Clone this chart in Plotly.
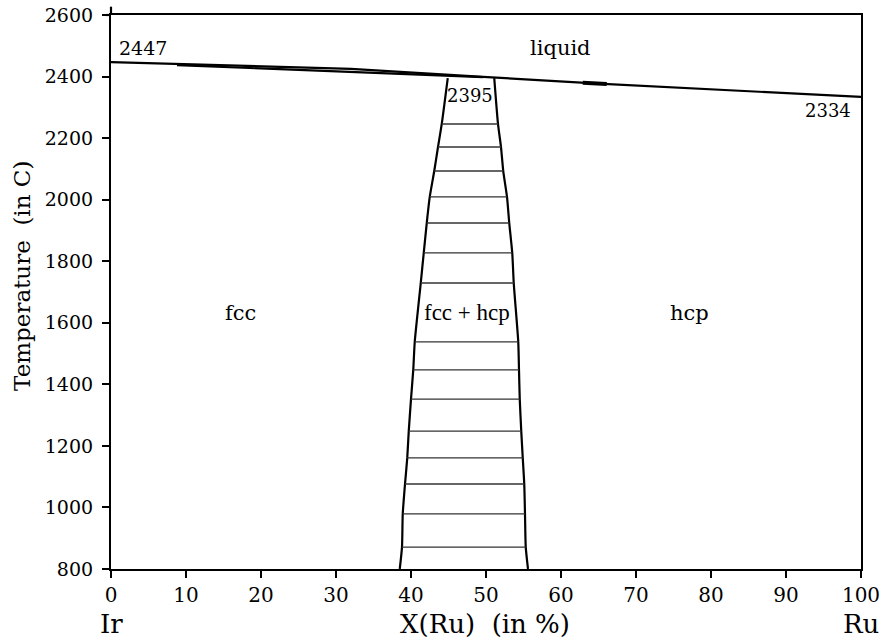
import plotly.graph_objects as go

# ---- data ----
x_ticks = [0, 10, 20, 30, 40, 50, 60, 70, 80, 90, 100]
y_ticks = [800, 1000, 1200, 1400, 1600, 1800, 2000, 2200, 2400, 2600]

# liquidus / solidus lines near the top (X % Ru, T in C)
liq_a_x = [0, 32, 49.6, 65, 100]
liq_a_T = [2447, 2425, 2399, 2377, 2334]
liq_b_x = [8.8, 32, 49.6]
liq_b_T = [2437, 2415, 2398]
blob_x = [62.9, 66.1]
blob_T = [2380, 2376]

# two-phase (fcc + hcp) boundaries
bound_T = [2395, 2246, 2171, 2093, 2009, 1924, 1827, 1729, 1538, 1447, 1352,
           1248, 1161, 1076, 979, 871, 800]
bound_left = [44.9, 44.1, 43.6, 43.1, 42.5, 42.1, 41.7, 41.3, 40.5, 40.3, 40.0,
              39.7, 39.5, 39.2, 38.9, 38.8, 38.5]
bound_right = [51.1, 51.6, 52.0, 52.3, 52.8, 53.1, 53.5, 53.7, 54.3, 54.4, 54.5,
               54.7, 54.9, 55.1, 55.2, 55.3, 55.6]

SERIF = "DejaVu Serif"

fig = go.Figure()

line_style = dict(color="black", width=2.2)
fig.add_trace(go.Scatter(x=liq_a_x, y=liq_a_T, mode="lines", line=line_style,
                         showlegend=False, hoverinfo="skip"))
fig.add_trace(go.Scatter(x=liq_b_x, y=liq_b_T, mode="lines", line=line_style,
                         showlegend=False, hoverinfo="skip"))
fig.add_trace(go.Scatter(x=blob_x, y=blob_T, mode="lines",
                         line=dict(color="black", width=4),
                         showlegend=False, hoverinfo="skip"))
fig.add_trace(go.Scatter(x=bound_left, y=bound_T, mode="lines",
                         line=dict(color="black", width=2.2, shape="spline", smoothing=0.6),
                         showlegend=False, hoverinfo="skip"))
fig.add_trace(go.Scatter(x=bound_right, y=bound_T, mode="lines",
                         line=dict(color="black", width=2.2, shape="spline", smoothing=0.6),
                         showlegend=False, hoverinfo="skip"))

# tie lines (hatching) between boundaries, skipping the top point and the bottom axis
hx, hy = [], []
for T, xl, xr in zip(bound_T[1:-1], bound_left[1:-1], bound_right[1:-1]):
    hx += [xl, xr, None]
    hy += [T, T, None]
fig.add_trace(go.Scatter(x=hx, y=hy, mode="lines",
                         line=dict(color="#333333", width=1.4),
                         showlegend=False, hoverinfo="skip"))

# extension of left axis above the frame and of the top frame line to the left
fig.add_shape(type="line", xref="paper", yref="paper", x0=0, x1=0, y0=1, y1=1.015,
              line=dict(color="black", width=2.2))
fig.add_shape(type="line", xref="paper", yref="paper", x0=-0.007, x1=0, y0=1, y1=1,
              line=dict(color="black", width=2.2))

annots = [
    dict(x=0.8, y=2493, text="2447", xanchor="left", size=19),
    dict(x=47.9, y=2337, text="2395", xanchor="center", size=18),
    dict(x=98.9, y=2291, text="2334", xanchor="right", size=18),
    dict(x=59.9, y=2493, text="liquid", xanchor="center", size=21),
    dict(x=17.3, y=1632, text="fcc", xanchor="center", size=21),
    dict(x=77.1, y=1632, text="hcp", xanchor="center", size=21),
]
for a in annots:
    fig.add_annotation(x=a["x"], y=a["y"], text=a["text"], xanchor=a["xanchor"],
                       yanchor="middle", showarrow=False,
                       font=dict(family=SERIF, size=a["size"], color="black"))
fig.add_annotation(x=47.5, y=1632, text="fcc + hcp", xanchor="center", yanchor="middle",
                   showarrow=False,
                   font=dict(family="Liberation Serif", size=23, color="black"))

# y-axis title
fig.add_annotation(x=-0.1187, y=0.529, xref="paper", yref="paper",
                   text="Temperature  (in C)", textangle=-90,
                   xanchor="center", yanchor="middle", showarrow=False,
                   font=dict(family=SERIF, size=23, color="black"))

# bottom labels
for xv, txt in [(0, "Ir"), (49.9, "X(Ru)  (in %)"), (100, "Ru")]:
    fig.add_annotation(x=xv, y=-0.0993, xref="x", yref="paper", text=txt,
                       xanchor="center", yanchor="middle", showarrow=False,
                       font=dict(family=SERIF, size=26, color="black"))

fig.update_layout(
    width=885, height=642, autosize=False,
    margin=dict(l=111, r=24, t=15, b=73),
    paper_bgcolor="white", plot_bgcolor="white",
    showlegend=False,
    xaxis=dict(range=[0, 100], tickvals=x_ticks, ticktext=[str(v) for v in x_ticks],
               automargin=False,
               showgrid=False, zeroline=False, showline=True, linecolor="black",
               linewidth=2.2, mirror=True, ticks="outside", ticklen=7, tickwidth=2,
               tickcolor="black",
               tickfont=dict(family=SERIF, size=20, color="black")),
    yaxis=dict(range=[800, 2600], tickvals=y_ticks, ticktext=[str(v) for v in y_ticks],
               automargin=False, ticklabelstandoff=5,
               showgrid=False, zeroline=False, showline=True, linecolor="black",
               linewidth=2.2, mirror=True, ticks="outside", ticklen=7, tickwidth=2,
               tickcolor="black",
               tickfont=dict(family=SERIF, size=19, color="black")),
)

fig.write_html("out.html")
